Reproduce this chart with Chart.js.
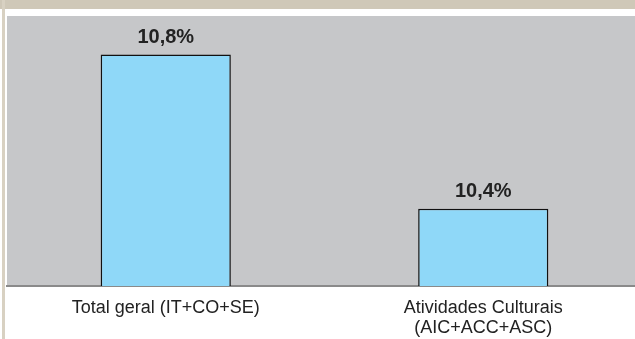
<!DOCTYPE html>
<html lang="pt">
  <head>
    <meta charset="UTF-8" />
    <title>grafico</title>
    <script src="https://cdn.jsdelivr.net/npm/chart.js"></script>
    <style>
      html, body { margin: 0; padding: 0; background: #fff; }
      #wrap { position: relative; width: 635px; height: 339px; overflow: hidden; }
      #topo { position: absolute; left: 0; top: 0; width: 635px; height: 9px; background: #cfc8b8; }
      #lado { position: absolute; left: 2px; top: 0; width: 3px; height: 339px; background: #d8d1c2; }
      canvas { position: absolute; left: 0; top: 0; }
    </style>
  </head>
  <body>
    <div id="wrap">
      <canvas id="grafico" width="642" height="339"></canvas>
      <div id="topo"></div>
      <div id="lado"></div>
    </div>

<script>
  const categorias = [
    ['Total geral (IT+CO+SE)'],
    ['Atividades Culturais', '(AIC+ACC+ASC)']
  ];
  const valores = [10.8, 10.4];
  const rotulos = ['10,8%', '10,4%'];
  const eixoMin = 10.2;
  const eixoMax = 10.9;

  // fundo cinza da area do grafico
  const fundoPlugin = {
    id: 'fundo',
    beforeDraw(chart) {
      const { ctx, chartArea } = chart;
      ctx.save();
      ctx.fillStyle = '#c6c7c9';
      ctx.fillRect(chartArea.left, chartArea.top, chartArea.right - chartArea.left, chartArea.bottom - chartArea.top);
      ctx.restore();
    }
  };

  // valores acima das barras
  const rotuloPlugin = {
    id: 'rotulos',
    afterDatasetsDraw(chart) {
      const { ctx } = chart;
      const meta = chart.getDatasetMeta(0);
      ctx.save();
      ctx.font = 'bold 20px "Liberation Sans", Arial, sans-serif';
      ctx.fillStyle = '#222';
      ctx.textAlign = 'center';
      ctx.textBaseline = 'middle';
      meta.data.forEach(function (bar, i) {
        ctx.fillText(rotulos[i], bar.x, bar.y - 17);
      });
      ctx.restore();
    }
  };

  new Chart(document.getElementById('grafico'), {
    type: 'bar',
    data: {
      labels: categorias,
      datasets: [{
        data: valores,
        backgroundColor: '#8fd8f8',
        borderColor: '#111',
        borderWidth: 1.5,
        borderSkipped: 'bottom',
        categoryPercentage: 0.82,
        barPercentage: 0.5
      }]
    },
    options: {
      responsive: false,
      animation: false,
      layout: { padding: { left: 7, top: 16, right: 0, bottom: 0 } },
      plugins: { legend: { display: false }, tooltip: { enabled: false } },
      scales: {
        x: {
          grid: { display: false },
          border: { display: true, color: '#8a8a8a', width: 2 },
          ticks: {
            color: '#222',
            padding: 4,
            font: { family: '"Liberation Sans", Arial, sans-serif', size: 18, lineHeight: 1.1 }
          },
          afterFit(scale) { scale.height = 53; }
        },
        y: {
          display: false,
          min: eixoMin,
          max: eixoMax
        }
      }
    },
    plugins: [fundoPlugin, rotuloPlugin]
  });
</script>
  </body>
</html>
